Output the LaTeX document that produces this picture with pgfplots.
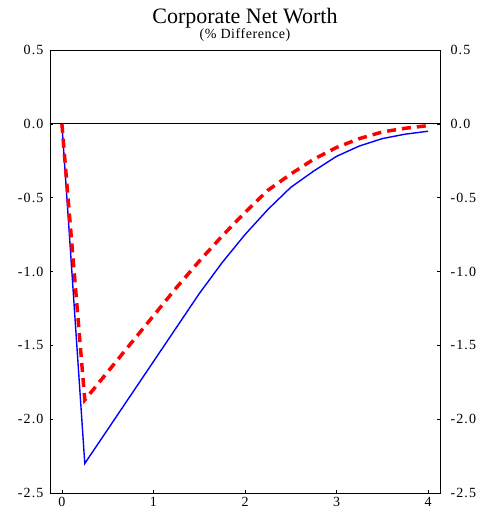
\documentclass[border=0pt]{standalone}
\usepackage{fontspec}
\setmainfont{Liberation Serif}
\newfontfamily\tickfont[LetterSpace=8]{Liberation Serif}
\newfontfamily\subfont[LetterSpace=4]{Liberation Serif}
\usepackage{pgfplots}
\pgfplotsset{compat=1.18}
\begin{document}
\begin{tikzpicture}
\begin{axis}[name=ax,
  scale only axis, width=390bp, height=443bp,
  xmin=-0.13, xmax=4.13, ymin=-2.5, ymax=0.5,
  xtick={0,1,2,3,4}, xticklabels={0,1,2,3,4},
  ytick={-2.5,-2,-1.5,-1,-0.5,0,0.5},
  yticklabels={-2.5,-2.0,-1.5,-1.0,-0.5,0.0,0.5},
  ytick pos=both, xtick pos=bottom,
  yticklabel pos=left,
  tick align=inside, major tick length=3bp,
  tick style={black, line width=0.6pt},
  axis line style={black, line width=0.8pt},
  ticklabel style={font=\tickfont\fontsize{14bp}{16bp}\selectfont},
  yticklabel style={xshift=-3bp},
  xticklabel style={yshift=-1bp},
  clip=true,
]
\addplot[black, line width=0.7pt, forget plot] coordinates {(-0.13,0) (4.13,0)};
\addplot[blue, line width=1.4pt] coordinates {
(0,0) (0.25,-2.30) (0.5,-2.07) (0.75,-1.84) (1,-1.61) (1.25,-1.38) (1.5,-1.15)
(1.75,-0.94) (2,-0.75) (2.25,-0.58) (2.5,-0.43) (2.75,-0.32) (3,-0.22)
(3.25,-0.15) (3.5,-0.10) (3.75,-0.07) (4,-0.05)};
\addplot[red, line width=3.5pt, dash pattern=on 9bp off 6bp] coordinates {
(0,0) (0.25,-1.87) (0.5,-1.68) (0.75,-1.49) (1,-1.30) (1.25,-1.11) (1.5,-0.93)
(1.75,-0.76) (2,-0.60) (2.25,-0.45) (2.5,-0.34) (2.75,-0.24) (3,-0.16)
(3.25,-0.10) (3.5,-0.055) (3.75,-0.03) (4,-0.012)};
\end{axis}
\begin{axis}[
  scale only axis, width=390bp, height=443bp,
  xmin=-0.13, xmax=4.13, ymin=-2.5, ymax=0.5,
  axis line style={draw=none}, xtick=\empty,
  ytick={-2.5,-2,-1.5,-1,-0.5,0,0.5},
  yticklabels={-2.5,-2.0,-1.5,-1.0,-0.5,0.0,0.5},
  yticklabel pos=right, ytick pos=right,
  major tick length=0pt, tick style={draw=none},
  ticklabel style={font=\tickfont\fontsize{14bp}{16bp}\selectfont},
  yticklabel style={xshift=7bp},
]
\addplot[draw=none] coordinates {(0,0)};
\end{axis}
\node[anchor=base, font=\fontsize{22bp}{24bp}\selectfont] at ([yshift=26bp]ax.north) {Corporate Net Worth};
\node[anchor=base, font=\subfont\fontsize{14bp}{16bp}\selectfont] at ([yshift=11bp]ax.north) {(\% Difference)};
\pgfresetboundingbox
\path ([shift={(-50bp,-21bp)}]ax.south west) rectangle ([shift={(37bp,50bp)}]ax.north east);
\end{tikzpicture}
\end{document}
